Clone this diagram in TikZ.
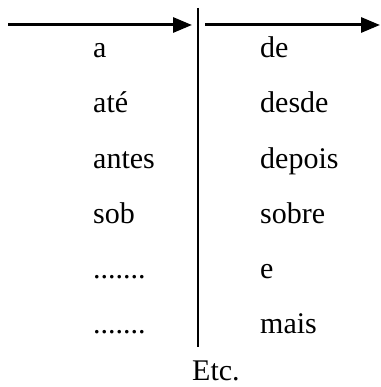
\documentclass[tikz,border=0pt]{standalone}
\usepackage{fontspec}
\setmainfont{Liberation Serif}
\usetikzlibrary{arrows.meta}
\def\blankrow{.......}

\begin{document}
\begin{tikzpicture}[x=1pt, y=-1pt,
		word/.style={anchor=base west, inner sep=0pt, font=\fontsize{30}{36}\selectfont},
		divider/.style={line width=2.6pt},
		flow/.style={line width=3pt, -{Triangle[length=19pt, width=15pt]}}]
		%%%%% START %%%%%
		
		\useasboundingbox (0, 0) rectangle (380, 387);
		
		\coordinate (leftstart) at (8, 25);
		\coordinate (leftend) at (192, 25);
		\coordinate (rightstart) at (205, 25);
		\coordinate (rightend) at (380, 25);
		\coordinate (divtop) at (198, 8);
		\coordinate (divbottom) at (198, 347);
		
		\draw[flow] (leftstart) -- (leftend);
		\draw[flow] (rightstart) -- (rightend);
		\draw[divider] (divtop) -- (divbottom);
		
		\foreach \w [count=\i] in {a, até, antes, sob, \blankrow, \blankrow}
			\node[word] (left\i) at (93, 3 + 55*\i) {\w};
		\foreach \w [count=\i] in {de, desde, depois, sobre, e, mais}
			\node[word] (right\i) at (260, 3 + 55*\i) {\w};
		
		\node[word] (etc) at (192, 380) {Etc.};
		
		%%%%% END %%%%%
\end{tikzpicture}
\end{document}
